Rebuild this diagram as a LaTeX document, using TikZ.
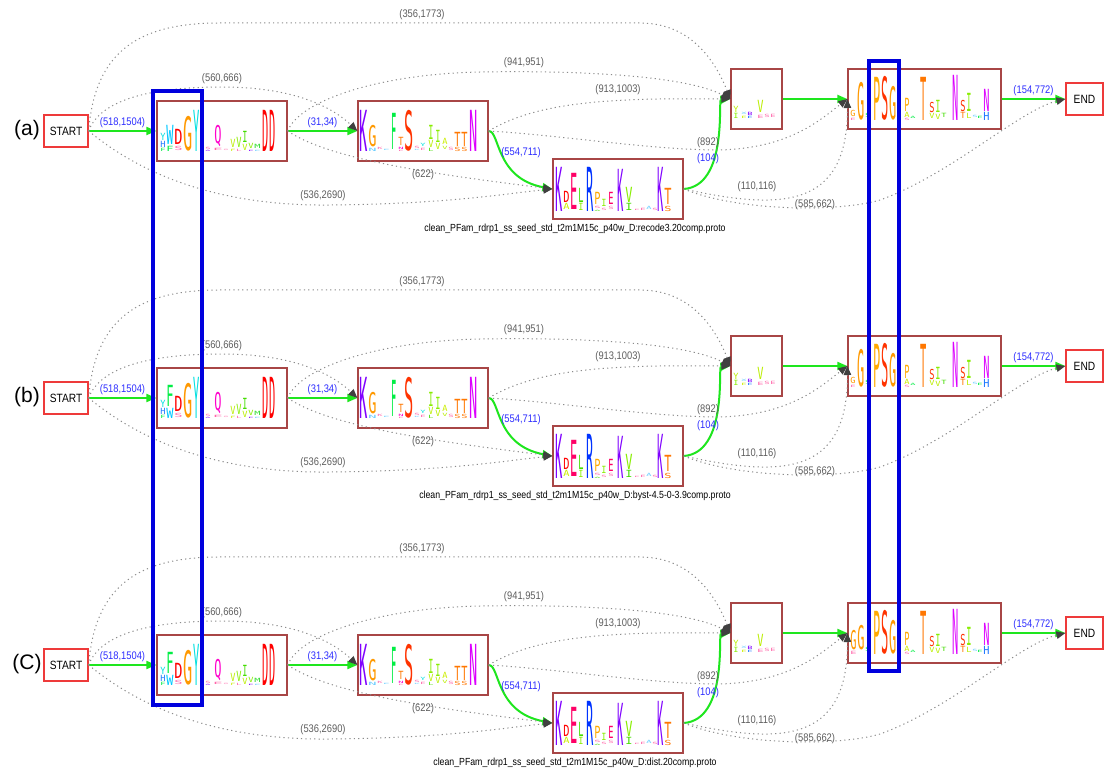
\documentclass[tikz,border=0pt]{standalone}
\usepackage{fontspec}
\setmainfont{Liberation Sans}
\newfontfamily\narrowfont{Liberation Sans}[FakeStretch=0.85]
\newfontfamily\logofont{DejaVu Sans Mono}
\usepackage{graphicx}
\usetikzlibrary{arrows.meta}

\definecolor{boxred}{HTML}{A84646}
\definecolor{termred}{HTML}{EE3A3A}
\definecolor{flowgreen}{HTML}{1EE61E}
\definecolor{dotgray}{HTML}{8C8C8C}
\definecolor{tipgray}{HTML}{404040}
\definecolor{lblue}{HTML}{2E2EFF}
\definecolor{lgray}{HTML}{5E5E5E}
\definecolor{hiblue}{HTML}{0000DD}
% logo colours
\definecolor{cK}{HTML}{8000FF}
\definecolor{cG}{HTML}{FF9900}
\definecolor{cY}{HTML}{00E0E0}
\definecolor{cW}{HTML}{00C8FF}
\definecolor{cH}{HTML}{1E78FF}
\definecolor{cF}{HTML}{00EE44}
\definecolor{cD}{HTML}{FF0000}
\definecolor{cS}{HTML}{FF3300}
\definecolor{cN}{HTML}{DD00FF}
\definecolor{cQ}{HTML}{FF00CC}
\definecolor{cT}{HTML}{FF7700}
\definecolor{cI}{HTML}{88EE00}
\definecolor{cV}{HTML}{BBEE00}
\definecolor{cL}{HTML}{44DD00}
\definecolor{cE}{HTML}{FF0066}
\definecolor{cR}{HTML}{0033FF}
\definecolor{cP}{HTML}{FFAA00}
\definecolor{cA}{HTML}{CCEE00}
\definecolor{cM}{HTML}{33DD33}
\definecolor{cX}{HTML}{66CCFF}
\definecolor{cpk}{HTML}{FF66AA}

\tikzset{
  hmmbox/.style={draw=boxred, line width=1.3pt, rectangle, inner sep=0pt, minimum height=60pt},
  termbox/.style={draw=termred, line width=1.3pt, rectangle, inner sep=0pt, minimum height=32pt, font=\fontsize{12}{14}\narrowfont},
  glyph/.style={anchor=south west, inner sep=0pt, outer sep=0pt},
  fwd/.style={draw=flowgreen, line width=2pt, -{Triangle[length=10pt,width=8pt]}},
  jump/.style={draw=dotgray, line width=1pt, dash pattern=on 1.2pt off 3.2pt, -{Triangle[length=9pt,width=7.5pt,color=tipgray]}},
  lblb/.style={text=lblue, font=\fontsize{11}{13}\narrowfont, inner sep=0pt},
  lblg/.style={text=lgray, font=\fontsize{11}{13}\narrowfont, inner sep=0pt},
  hilite/.style={draw=hiblue, line width=4pt}
}

\newcounter{gl}
% x, width, height, colour, letter, lift above baseline
\newcommand\lgl[6]{\stepcounter{gl}\node[glyph,text=#4] (gl\arabic{gl}) at (#1+0.4,-#6-0.4)
  {\resizebox{\dimexpr#2pt-0.8pt\relax}{\dimexpr#3pt-0.8pt\relax}{\logofont #5}};}

\newcommand\logoone[1]{%
\lgl{3}{6}{4}{cF}{F}{0}\lgl{3}{6}{7}{cH}{H}{4}\lgl{3}{6}{8}{cY}{Y}{11}
\ifnum#1=1 \lgl{9}{8}{20}{cW}{W}{7}\lgl{9}{8}{6}{cF}{F}{0}
\else \lgl{9}{8}{22}{cF}{F}{12}\lgl{9}{8}{11}{cW}{W}{0}\fi
\lgl{17}{9}{16}{cD}{D}{7}\lgl{17}{9}{5}{cpk}{S}{1}
\lgl{26}{10}{35}{cG}{G}{0}
\lgl{36}{7}{42}{cY}{Y}{0}
\lgl{43}{5}{2}{cQ}{E}{1}\lgl{48}{6}{3}{cpk}{S}{2.5}\lgl{48}{6}{2}{cK}{A}{0}
\lgl{57}{8}{19}{cQ}{Q}{5}\lgl{56}{10}{3}{cpk}{E}{1}
\lgl{66}{6}{2}{cpk}{S}{1}
\lgl{73}{6}{9}{cV}{V}{4}\lgl{73}{6}{3}{cA}{F}{0}
\lgl{79}{6}{11}{cI}{V}{4}\lgl{79}{6}{3}{cpk}{L}{0}
\lgl{85}{6}{12}{cL}{I}{9}\lgl{85}{6}{7}{cV}{V}{1}
\lgl{91}{6}{6}{cI}{V}{3}\lgl{91}{6}{2}{cK}{E}{0}
\lgl{97}{7}{5}{cM}{M}{3}\lgl{97}{7}{2}{cX}{E}{0}
\lgl{105}{7}{42}{cD}{D}{0}\lgl{112}{7}{42}{cD}{D}{0}}

\newcommand\logotwo{%
\lgl{1}{9}{42}{cK}{K}{0}
\lgl{10}{9}{22}{cG}{G}{5}\lgl{10}{9}{4}{cX}{N}{0}
\lgl{19}{6}{3}{cpk}{K}{2}\lgl{25}{7}{2}{cX}{E}{1}
\lgl{33}{6}{37}{cF}{F}{2}
\lgl{40}{6}{9}{cT}{T}{6}\lgl{40}{6}{3}{cQ}{N}{2.5}\lgl{40}{6}{2}{cpk}{E}{0}
\lgl{46}{10}{41}{cS}{S}{0}
\lgl{56}{6}{3}{cpk}{S}{3}\lgl{56}{6}{2}{cX}{K}{1}
\lgl{62}{6}{4}{cY}{Y}{5}\lgl{62}{6}{3}{cpk}{E}{1}
\lgl{70}{6}{15}{cI}{I}{12}\lgl{70}{6}{8}{cV}{V}{4}\lgl{70}{6}{4}{cL}{L}{0}
\lgl{77}{6}{13}{cI}{I}{9}\lgl{77}{6}{7}{cV}{V}{2}
\lgl{84}{6}{7}{cA}{A}{7}\lgl{84}{6}{4}{cV}{V}{2}
\lgl{90}{6}{4}{cpk}{S}{1}
\lgl{96}{7}{15}{cT}{T}{5}\lgl{96}{7}{5}{cT}{S}{0}
\lgl{103}{7}{15}{cT}{T}{5}\lgl{103}{7}{5}{cT}{S}{0}
\lgl{111}{9}{42}{cN}{N}{0}}

\newcommand\logothree{%
\lgl{2}{8}{45}{cK}{K}{0}
\lgl{10}{7}{12}{cD}{D}{9}\lgl{10}{7}{7}{cA}{A}{2}
\lgl{17}{8}{37}{cE}{E}{2}
\lgl{25}{6}{15}{cL}{L}{9}\lgl{25}{6}{8}{cI}{I}{1}
\lgl{33}{8}{45}{cR}{R}{0}
\lgl{41}{7}{13}{cP}{P}{7}\lgl{41}{7}{3}{cpk}{S}{3}\lgl{41}{7}{2}{cL}{A}{0}
\lgl{48}{6}{8}{cI}{I}{5}\lgl{48}{6}{3}{cpk}{S}{1}
\lgl{55}{6}{13}{cE}{E}{7}\lgl{55}{6}{4}{cpk}{S}{2}
\lgl{64}{7}{43}{cK}{K}{0}
\lgl{72}{8}{16}{cI}{V}{9}\lgl{72}{8}{8}{cL}{I}{1}
\lgl{81}{6}{2}{cpk}{E}{1}\lgl{87}{6}{3}{cpk}{E}{1}
\lgl{93}{6}{4}{cX}{A}{2}\lgl{99}{6}{3}{cpk}{S}{1}
\lgl{104}{7}{45}{cK}{K}{0}
\lgl{111}{8}{17}{cT}{T}{7}\lgl{111}{8}{6}{cT}{S}{0}}

\newcommand\logofour{%
\lgl{2}{6}{7}{cV}{Y}{7}\lgl{2}{6}{6}{cI}{I}{1}
\lgl{10}{6}{3}{cX}{X}{5}\lgl{10}{6}{3}{cA}{E}{1}
\lgl{16}{6}{4}{cK}{B}{4}\lgl{16}{6}{3}{cH}{E}{1}
\lgl{26}{7}{13}{cV}{V}{7}\lgl{26}{7}{4}{cpk}{E}{1}
\lgl{33}{6}{4}{cpk}{S}{2}\lgl{39}{6}{4}{cpk}{E}{2}}

\newcommand\logofive[1]{%
\ifnum#1=3 \lgl{2}{7}{20}{cG}{G}{5}\lgl{2}{7}{4}{cpk}{E}{0}\lgl{9}{8}{25}{cG}{G}{5}
\else \lgl{2}{6}{7}{cG}{G}{4}\lgl{2}{6}{3}{cpk}{E}{0}\lgl{9}{8}{38}{cG}{G}{0}\fi
\lgl{17}{5}{5}{cF}{S}{3}
\lgl{25}{8}{44}{cP}{P}{0}
\lgl{33}{8}{44}{cS}{S}{0}
\lgl{41}{8}{34}{cG}{G}{0}
\lgl{56}{6}{14}{cP}{P}{9}\lgl{56}{6}{6}{cA}{A}{3}\lgl{56}{6}{3}{cpk}{S}{0}
\lgl{62}{6}{3}{cF}{A}{2}
\lgl{72}{7}{44}{cT}{T}{0}
\lgl{81}{6}{11}{cS}{S}{8}\lgl{81}{6}{6}{cV}{V}{2}
\lgl{87}{6}{13}{cI}{I}{8}\lgl{87}{6}{6}{cV}{V}{1}
\lgl{93}{6}{5}{cL}{T}{3}
\lgl{104}{7}{46}{cN}{N}{0}
\lgl{112}{6}{12}{cS}{S}{9}\lgl{112}{6}{7}{cT}{T}{2}
\lgl{118}{6}{19}{cI}{I}{9}\lgl{118}{6}{6}{cV}{L}{2}
\lgl{124}{6}{3}{cX}{S}{3}\lgl{129}{6}{3}{cF}{E}{2}
\lgl{135}{7}{23}{cN}{N}{9}\lgl{135}{7}{9}{cH}{H}{0}}

\begin{document}
\begin{tikzpicture}[x=1pt,y=-1pt]
\fill[white] (0,0) rectangle (1104,775);
\useasboundingbox (0,0) rectangle (1104,775);

\foreach \rw/\dy/\lab/\capt/\vr in {a/0/a/recode3.20/1, b/267/b/byst-4.5-0-3.9/2, c/534/C/dist.20/3}{
\begin{scope}[shift={(0,\dy)}]
\node[font=\fontsize{21}{24}\selectfont, inner sep=0pt] (rl\rw) at (27,130) {(\lab)};
\node[termbox, minimum width=44pt] (st\rw) at (66,131) {START};
\node[hmmbox, minimum width=130pt] (b1\rw) at (222,131) {};
\node[hmmbox, minimum width=130pt] (b2\rw) at (423,131) {};
\node[hmmbox, minimum width=130pt] (b3\rw) at (618,189) {};
\node[hmmbox, minimum width=51pt] (b4\rw) at (756.5,99) {};
\node[hmmbox, minimum width=153pt] (b5\rw) at (924.5,99) {};
\node[termbox, minimum width=37pt] (en\rw) at (1084.5,99) {END};
\node[font=\fontsize{10.3}{12}\narrowfont, inner sep=0pt] (cp\rw) at (575,229)
  {clean\_PFam\_rdrp1\_ss\_seed\_std\_t2m1M15c\_p40w\_D:\capt comp.proto};

\begin{scope}[shift={(157,152)}] \logoone{\vr} \end{scope}
\begin{scope}[shift={(358,152)}] \logotwo \end{scope}
\begin{scope}[shift={(553,212)}] \logothree \end{scope}
\begin{scope}[shift={(731,120)}] \logofour \end{scope}
\begin{scope}[shift={(848,121)}] \logofive{\vr} \end{scope}

\draw[fwd] (st\rw) -- node[lblb, above=2pt] (ta\rw) {(518,1504)} (b1\rw);
\draw[fwd] (b1\rw) -- node[lblb, above=2pt] (tb\rw) {(31,34)} (b2\rw);
\draw[fwd] (b2\rw.east) .. controls (500,131) and (495,178) .. (b3\rw.west);
\node[lblb] (tc\rw) at (521,153) {(554,711)};
\draw[fwd] (b3\rw.east) .. controls (728,186) and (718,100) .. (b4\rw.west);
\node[lblb] (td\rw) at (708,159) {(104)};
\draw[fwd] (b4\rw) -- (b5\rw);
\draw[fwd] (b5\rw) -- node[lblb, above=2pt] (te\rw) {(154,772)} (en\rw);

\draw[jump] (st\rw.east) .. controls (95,50) and (140,23) .. (220,23) -- (640,23) .. controls (690,23) and (715,60) .. (b4\rw.west);
\node[lblg] (ua\rw) at (422,15) {(356,1773)};
\draw[jump] (st\rw.east) .. controls (100,100) and (150,87) .. (222,87) .. controls (290,87) and (330,105) .. (b2\rw.west);
\node[lblg] (ub\rw) at (222,79) {(560,666)};
\draw[jump] (b1\rw.east) .. controls (300,100) and (380,74) .. (480,72) .. controls (600,70) and (690,78) .. (b4\rw.west);
\node[lblg] (uc\rw) at (524,63) {(941,951)};
\draw[jump] (b2\rw.east) .. controls (540,100) and (620,98) .. (b4\rw.west);
\node[lblg] (ud\rw) at (618,90) {(913,1003)};
\draw[jump] (b2\rw.east) .. controls (560,135) and (650,150) .. (720,150) .. controls (790,148) and (820,120) .. (b5\rw.west);
\node[lblg] (ue\rw) at (708,143) {(892)};
\draw[jump] (b1\rw.east) .. controls (330,160) and (440,175) .. (b3\rw.west);
\node[lblg] (uf\rw) at (423,175) {(622)};
\draw[jump] (st\rw.east) .. controls (160,190) and (250,206) .. (330,205) .. controls (450,204) and (510,193) .. (b3\rw.west);
\node[lblg] (ug\rw) at (323,196) {(536,2690)};
\draw[jump] (b3\rw.east) .. controls (780,210) and (848,210) .. (b5\rw.west);
\node[lblg] (uh\rw) at (757,187) {(110,116)};
\draw[jump] (b3\rw.east) .. controls (740,212) and (840,212) .. (880,200) .. controls (950,175) and (1020,110) .. (en\rw.west);
\node[lblg] (ui\rw) at (815,205) {(585,662)};
\end{scope}
}

\draw[hilite] (153,91) rectangle (202,705);
\draw[hilite] (869,61) rectangle (899,671);
\end{tikzpicture}
\end{document}
